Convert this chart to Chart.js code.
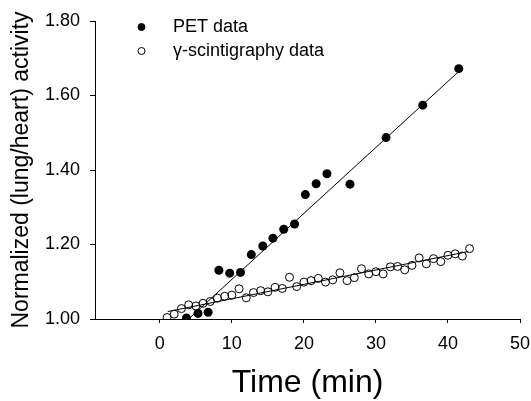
<!DOCTYPE html>
<html><head><meta charset="utf-8">
<script src="https://cdn.jsdelivr.net/npm/chart.js@4/dist/chart.umd.min.js"></script>
<style>html,body{margin:0;padding:0;background:#fff}#wrap{width:531px;height:401px}</style>
</head><body><div id="wrap"><canvas id="c" width="531" height="401"></canvas></div>
<script>
const petTime = [3.7,5.3,6.7,8.2,9.7,11.2,12.7,14.3,15.7,17.2,18.7,20.2,21.7,23.2,26.4,31.4,36.5,41.5];
const petValue = [1.003,1.015,1.018,1.131,1.123,1.125,1.173,1.196,1.217,1.241,1.255,1.334,1.363,1.390,1.362,1.487,1.574,1.672];
const gammaTime = [1,2,3,4,5,6,7,8,9,10,11,12,13,14,15,16,17,18,19,20,21,22,23,24,25,26,27,28,29,30,31,32,33,34,35,36,37,38,39,40,41,42,43];
const gammaValue = [1.004,1.013,1.028,1.038,1.035,1.042,1.047,1.056,1.061,1.064,1.081,1.057,1.071,1.076,1.073,1.085,1.082,1.112,1.087,1.099,1.103,1.109,1.099,1.105,1.124,1.103,1.111,1.135,1.121,1.127,1.121,1.140,1.141,1.132,1.144,1.164,1.148,1.162,1.154,1.171,1.175,1.169,1.189];
const petFitTime = [4.0, 41.7];
const petFitValue = [1.000, 1.668];
const gammaFitTime = [1.1, 42.8];
const gammaFitValue = [1.020, 1.181];
const xTicks = [0,10,20,30,40,50];
const yTicks = [1.00,1.20,1.40,1.60,1.80];
const labels = ['PET data', 'γ-scintigraphy data'];
const xTitle = 'Time (min)';
const yTitle = 'Normalized (lung/heart) activity';

const pts = (xs, ys) => xs.map((x, i) => ({x, y: ys[i]}));
const FONT = "'Liberation Sans', Arial, sans-serif";

const legendPlugin = {
  id: 'insideLegend',
  afterDraw(chart) {
    const ctx = chart.ctx;
    ctx.save();
    const rows = [{y: 27, fill: '#000'}, {y: 51, fill: '#fff'}];
    rows.forEach((r, i) => {
      ctx.beginPath();
      ctx.arc(141.5, r.y, 3.5, 0, Math.PI * 2);
      ctx.fillStyle = r.fill; ctx.fill();
      ctx.lineWidth = 1; ctx.strokeStyle = '#000'; ctx.stroke();
      ctx.fillStyle = '#000';
      ctx.font = '18px ' + FONT;
      ctx.textBaseline = 'middle';
      ctx.textAlign = 'left';
      ctx.fillText(chart.data.datasets[i].label, 173, r.y);
    });
    ctx.restore();
  }
};

const areaPlugin = {
  id: 'fixArea',
  afterLayout(chart) {
    // keep the plot frame where the reference has it
    const x = chart.scales.x, y = chart.scales.y;
    x.left = 95; x.right = 520; x.width = 425;
    x.configure && x.configure();
    chart.chartArea.left = 95; chart.chartArea.right = 520;
    chart.chartArea.width = 425;
  }
};

new Chart(document.getElementById('c'), {
  type: 'scatter',
  data: {
    datasets: [
      {label: labels[0], data: pts(petTime, petValue), pointRadius: 4.5, pointBackgroundColor: '#000', pointBorderColor: '#000', pointBorderWidth: 0, order: 1},
      {label: labels[1], data: pts(gammaTime, gammaValue), pointRadius: 4, pointBackgroundColor: 'rgba(255,255,255,0)', pointBorderColor: '#000', pointBorderWidth: 1, order: 1},
      {label: 'fit1', type: 'line', data: pts(petFitTime, petFitValue), borderColor: '#000', borderWidth: 1, pointRadius: 0, fill: false, order: 2},
      {label: 'fit2', type: 'line', data: pts(gammaFitTime, gammaFitValue), borderColor: '#000', borderWidth: 1, pointRadius: 0, fill: false, order: 2}
    ]
  },
  options: {
    responsive: false,
    animation: false,
    events: [],
    layout: {padding: {top: 21, right: 11, left: 0, bottom: 0}},
    plugins: {legend: {display: false}, tooltip: {enabled: false}},
    scales: {
      x: {
        type: 'linear', min: -9, max: 50,
        afterBuildTicks: s => { s.ticks = xTicks.map(v => ({value: v})); },
        afterFit: s => { s.height = 82; },
        grid: {display: true, drawOnChartArea: false, drawTicks: true, tickLength: 4, color: '#000'},
        border: {display: true, color: '#000', width: 1},
        ticks: {color: '#000', font: {family: FONT, size: 18}, padding: 10, maxRotation: 0},
        title: {display: true, text: xTitle, color: '#000', font: {family: FONT, size: 32, lineHeight: 1.1}, padding: {top: 4, bottom: 0}}
      },
      y: {
        type: 'linear', min: 1.0, max: 1.8,
        afterBuildTicks: s => { s.ticks = yTicks.map(v => ({value: v})); },
        afterFit: s => { s.width = 95; },
        grid: {display: true, drawOnChartArea: false, drawTicks: true, tickLength: 5, color: '#000'},
        border: {display: true, color: '#000', width: 1},
        ticks: {color: '#000', font: {family: FONT, size: 18}, padding: 10, callback: v => v.toFixed(2)},
        title: {display: true, text: yTitle, color: '#000', font: {family: FONT, size: 23, lineHeight: 1.2}, padding: {top: 8, bottom: 0}}
      }
    }
  },
  plugins: [areaPlugin, legendPlugin]
});
</script></body></html>
